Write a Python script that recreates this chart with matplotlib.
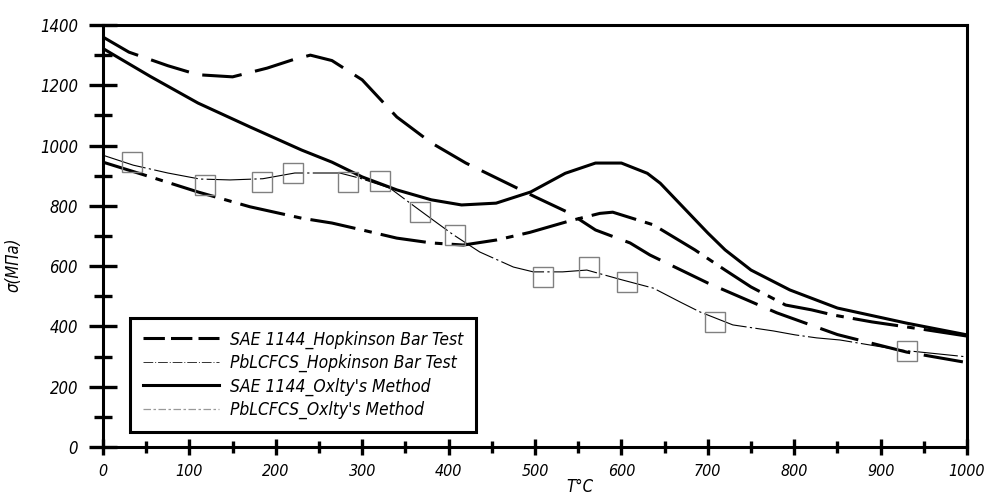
import matplotlib
matplotlib.use('Agg')
import matplotlib.pyplot as plt
from matplotlib.lines import Line2D
from matplotlib.ticker import MultipleLocator

plt.rcParams['font.family'] = ['DejaVu Sans']
plt.rcParams['font.style'] = 'italic'
plt.rcParams['font.stretch'] = 'condensed'

# SAE 1144 Hopkinson bar test (thick dashed)
sae_hop_t = [0, 30, 75, 110, 150, 190, 220, 240, 265, 300, 340, 380, 420, 460,
             500, 540, 570, 610, 633, 700, 780, 850, 930, 1000]
sae_hop_s = [1360, 1310, 1265, 1235, 1228, 1257, 1285, 1300, 1282, 1218, 1095, 1009, 942, 886,
             830, 776, 720, 677, 637, 544, 445, 373, 315, 280]

# SAE 1144 Oxley's method (thick solid)
sae_ox_t = [0, 10, 55, 110, 170, 230, 265, 300, 340, 380, 415, 455, 495, 535,
            570, 600, 630, 645, 670, 700, 720, 750, 795, 850, 930, 1000]
sae_ox_s = [1322, 1305, 1229, 1141, 1062, 985, 945, 896, 853, 820, 803, 809, 846, 908,
            942, 942, 908, 875, 800, 710, 654, 587, 521, 461, 411, 372]

# PbLCFCS Oxley's method (thick dash-dot)
pb_ox_t = [0, 55, 110, 170, 230, 265, 300, 340, 380, 417, 456, 494, 540, 575,
           590, 637, 685, 720, 750, 790, 820, 845, 890, 950, 1000]
pb_ox_s = [945, 896, 846, 797, 759, 743, 720, 693, 677, 670, 687, 712, 750, 775,
           779, 737, 654, 587, 531, 471, 455, 438, 415, 390, 368]

# PbLCFCS Hopkinson bar test (thin line)
pb_hop_t = [0, 35, 75, 112, 147, 185, 222, 274, 297, 332, 363, 382, 405, 436, 475,
            498, 532, 560, 600, 637, 668, 691, 729, 776, 801, 826, 853, 922, 1000]
pb_hop_s = [968, 935, 909, 889, 886, 890, 909, 909, 892, 859, 793, 753, 705, 647, 597,
            581, 581, 587, 555, 527, 481, 448, 405, 385, 372, 362, 355, 322, 299]

# measured points (squares)
pts_t = [33, 118, 184, 220, 284, 321, 367, 407, 509, 563, 606, 708, 930]
pts_s = [945, 869, 879, 908, 880, 883, 780, 703, 564, 597, 547, 415, 318]

labels = ['SAE 1144_Hopkinson Bar Test', 'PbLCFCS_Hopkinson Bar Test',
          "SAE 1144_Oxlty's Method", "PbLCFCS_Oxlty's Method"]

fig = plt.figure(figsize=(9.84, 4.95), dpi=100)
ax = fig.add_axes([103/984, 48/495, 864/984, 422/495])

lw = 2.2
ax.plot(sae_hop_t, sae_hop_s, color='black', lw=lw, dashes=(13, 4.5))
ax.plot(sae_ox_t, sae_ox_s, color='black', lw=lw)
ax.plot(pb_ox_t, pb_ox_s, color='black', lw=lw, dashes=(15, 3, 2.5, 3))
ax.plot(pb_hop_t, pb_hop_s, color='black', lw=0.8, dashes=(40, 3, 2, 3))
ax.plot(pts_t, pts_s, ls='none', marker='s', ms=14, mfc='none', mec='#808080', mew=1.0)

ax.set_xlim(0, 1000)
ax.set_ylim(0, 1400)
ax.xaxis.set_major_locator(MultipleLocator(100))
ax.xaxis.set_minor_locator(MultipleLocator(50))
ax.yaxis.set_major_locator(MultipleLocator(200))
ax.yaxis.set_minor_locator(MultipleLocator(100))

for s in ax.spines.values():
    s.set_linewidth(lw)
ax.tick_params(axis='y', which='major', direction='inout', length=20, width=2.4, pad=8, labelsize=12)
ax.tick_params(axis='y', which='minor', direction='inout', length=13, width=2.4)
ax.tick_params(axis='x', which='major', direction='inout', length=12, width=2.4, pad=6, labelsize=11.5)
ax.tick_params(axis='x', which='minor', direction='inout', length=9, width=2.4)

handles = [
    Line2D([], [], color='black', lw=lw, dashes=(7, 2)),
    Line2D([], [], color='#333333', lw=0.7, dashes=(10, 2, 1, 2)),
    Line2D([], [], color='black', lw=lw),
    Line2D([], [], color='#999999', lw=0.9, dashes=(6, 2, 2, 2)),
]
leg = ax.legend(handles, labels, loc='lower left', bbox_to_anchor=(0.031, 0.035),
                borderaxespad=0, fancybox=False, framealpha=1, edgecolor='black',
                fontsize=12.5, handlelength=4.4, handletextpad=0.6, labelspacing=0.3,
                borderpad=0.75)
leg.get_frame().set_linewidth(2.2)

fig.text(580/984, 1 - 487/495, 'T°C', ha='center', va='center', fontsize=12)
fig.text(14/984, 1 - 265/495, 'σ(MПа)', ha='center', va='center', rotation=90, fontsize=12)

fig.savefig('out.png', dpi=100)
